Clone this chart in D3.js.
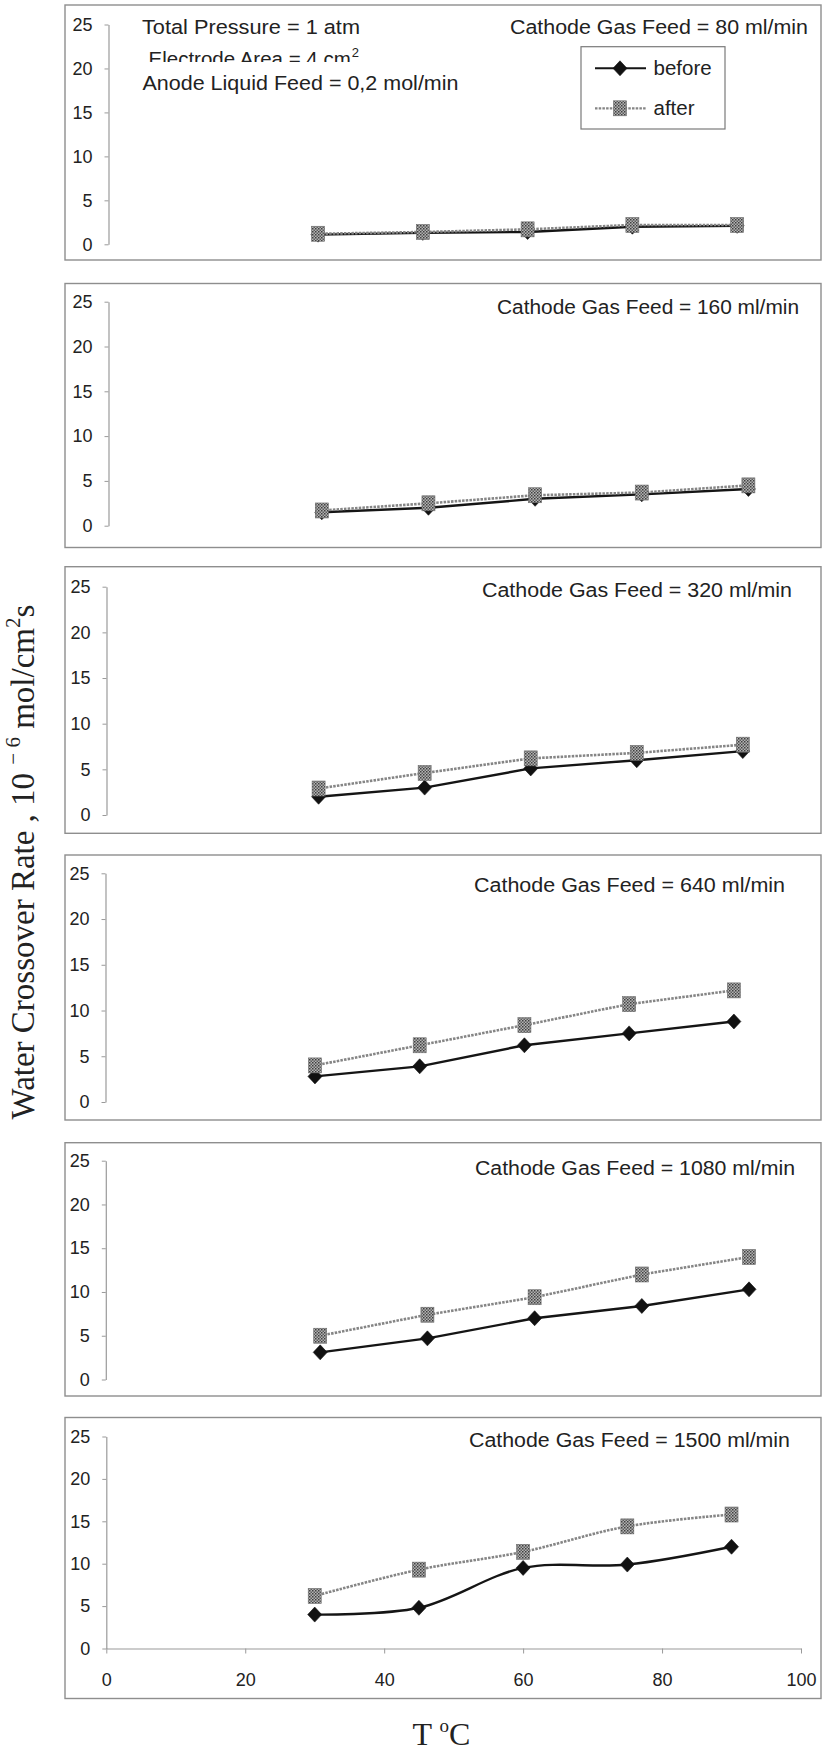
<!DOCTYPE html>
<html>
<head>
<meta charset="utf-8">
<script src="https://cdn.jsdelivr.net/npm/d3@7"></script>
<style>
  body { margin: 0; background: #fff; }
  svg { display: block; }
</style>
</head>
<body>
<svg id="chart" width="823" height="1751"></svg>
<script>
// Water crossover rate (10^-6 mol/cm2 s) vs. cell temperature, before and after,
// one panel per cathode gas feed rate.
const temperatures = [30, 45, 60, 75, 90];
const cathodeFeeds = [80, 160, 320, 640, 1080, 1500];

const before80   = [1.1, 1.3, 1.4, 2.0, 2.1];
const after80    = [1.2, 1.4, 1.7, 2.2, 2.2];
const before160  = [1.5, 2.0, 3.0, 3.5, 4.1];
const after160   = [1.7, 2.5, 3.4, 3.7, 4.5];
const before320  = [2.0, 3.0, 5.1, 6.0, 7.0];
const after320   = [2.9, 4.6, 6.2, 6.8, 7.7];
const before640  = [2.8, 3.9, 6.2, 7.5, 8.8];
const after640   = [4.0, 6.2, 8.4, 10.7, 12.2];
const before1080 = [3.1, 4.7, 7.0, 8.4, 10.3];
const after1080  = [5.0, 7.4, 9.4, 12.0, 14.0];
const before1500 = [4.0, 4.8, 9.5, 9.9, 12.0];
const after1500  = [6.2, 9.3, 11.4, 14.4, 15.8];

const beforeSeries = [before80, before160, before320, before640, before1080, before1500];
const afterSeries  = [after80, after160, after320, after640, after1080, after1500];

const yTicks = [0, 5, 10, 15, 20, 25];
const xTicks = [0, 20, 40, 60, 80, 100];
const seriesNames = ["before", "after"];

// Panel frames and plot areas (pixels)
const panelBoxes = [
  { top: 5,      bottom: 260,    yTop: 24.5,   yZero: 244.3,  xZero: 108.5, xFull: 807,   titleEnd: 808, titleW: 298, titleY: 34 },
  { top: 283.5,  bottom: 547.5,  yTop: 301.7,  yZero: 525.7,  xZero: 108.5, xFull: 819.5, titleEnd: 799, titleW: 302, titleY: 314 },
  { top: 566.7,  bottom: 833.3,  yTop: 586.7,  yZero: 815,    xZero: 106.5, xFull: 813.5, titleEnd: 792, titleW: 310, titleY: 596.5 },
  { top: 855,    bottom: 1120,   yTop: 873.3,  yZero: 1102,   xZero: 105.5, xFull: 803.7, titleEnd: 785, titleW: 311, titleY: 891.5 },
  { top: 1142.7, bottom: 1396,   yTop: 1160.7, yZero: 1379.5, xZero: 105.8, xFull: 820.5, titleEnd: 795, titleW: 320, titleY: 1174.5 },
  { top: 1417.5, bottom: 1698.5, yTop: 1436.5, yZero: 1648.5, xZero: 106.3, xFull: 801,   titleEnd: 790, titleW: 321, titleY: 1446.5 }
];
const frameLeft = 65, frameRight = 821;
const SANS = "'Liberation Sans', Arial, sans-serif";
const SERIF = "'Liberation Serif', 'Times New Roman', serif";

const svg = d3.select("#chart");
svg.append("rect").attr("width", 823).attr("height", 1751).attr("fill", "#fff");

// checkered fill for the "after" markers
const defs = svg.append("defs");
const pat = defs.append("pattern").attr("id", "checker")
  .attr("patternUnits", "userSpaceOnUse").attr("width", 3).attr("height", 3);
pat.append("rect").attr("width", 3).attr("height", 3).attr("fill", "#b3b3b3");
pat.append("rect").attr("width", 1.5).attr("height", 1.5).attr("fill", "#3f3f3f");
pat.append("rect").attr("x", 1.5).attr("y", 1.5).attr("width", 1.5).attr("height", 1.5).attr("fill", "#5c5c5c");
defs.append("clipPath").attr("id", "areaClip")
  .append("rect").attr("x", 0).attr("y", 0).attr("width", 823).attr("height", 62);

const diamond = (g, cx, cy) => g.append("path")
  .attr("d", `M${cx},${cy - 7.5}L${cx + 7},${cy}L${cx},${cy + 7.5}L${cx - 7},${cy}Z`)
  .attr("fill", "#111").attr("stroke", "#111").attr("stroke-width", 0.6);
const square = (g, cx, cy) => g.append("rect")
  .attr("x", cx - 6.5).attr("y", cy - 7.5).attr("width", 13).attr("height", 15)
  .attr("fill", "url(#checker)").attr("stroke", "#6a6a6a").attr("stroke-width", 0.6);

const beforeStyle = { stroke: "#151515", width: 2.4, dash: null };
const afterStyle  = { stroke: "#858585", width: 2.6, dash: "2.5,1.2" };

cathodeFeeds.forEach((feed, i) => {
  const box = panelBoxes[i];
  const g = svg.append("g");

  g.append("rect")
    .attr("x", frameLeft).attr("y", box.top)
    .attr("width", frameRight - frameLeft).attr("height", box.bottom - box.top)
    .attr("fill", "#fff").attr("stroke", "#8e8e8e").attr("stroke-width", 1.4);

  const x = d3.scaleLinear().domain([0, 100]).range([box.xZero, box.xFull]);
  const y = d3.scaleLinear().domain([0, 25]).range([box.yZero, box.yTop]);

  const yAxis = g.append("g")
    .attr("transform", `translate(${box.xZero},0)`)
    .call(d3.axisLeft(y).tickValues(yTicks).tickSize(4).tickSizeOuter(0).tickPadding(12));
  yAxis.select(".domain").attr("stroke", "#9a9a9a").attr("stroke-width", 1.2);
  yAxis.selectAll(".tick line").attr("stroke", "#9a9a9a");
  yAxis.selectAll(".tick text").attr("fill", "#222").style("font", `18px ${SANS}`);

  if (i === cathodeFeeds.length - 1) {
    const xAxis = g.append("g")
      .attr("transform", `translate(0,${box.yZero})`)
      .call(d3.axisBottom(x).tickValues(xTicks).tickSize(5).tickSizeOuter(0).tickPadding(20));
    xAxis.select(".domain").attr("stroke", "#9a9a9a").attr("stroke-width", 1.2);
    xAxis.selectAll(".tick line").attr("stroke", "#9a9a9a");
    xAxis.selectAll(".tick text").attr("fill", "#222").style("font", `18px ${SANS}`);
  }

  g.append("text")
    .attr("x", box.titleEnd - box.titleW).attr("y", box.titleY)
    .attr("textLength", box.titleW).attr("lengthAdjust", "spacingAndGlyphs")
    .attr("fill", "#222").style("font", `20px ${SANS}`)
    .text(`Cathode Gas Feed = ${feed} ml/min`);

  const curve = i === cathodeFeeds.length - 1 ? d3.curveCatmullRom.alpha(0.5) : d3.curveLinear;
  const line = d3.line().x(d => x(d[0])).y(d => y(d[1])).curve(curve);
  const beforePts = temperatures.map((t, k) => [t, beforeSeries[i][k]]);
  const afterPts = temperatures.map((t, k) => [t, afterSeries[i][k]]);

  [[beforePts, beforeStyle], [afterPts, afterStyle]].forEach(([pts, st]) => {
    g.append("path").attr("d", line(pts))
      .attr("fill", "none").attr("stroke", st.stroke).attr("stroke-width", st.width)
      .attr("stroke-dasharray", st.dash).attr("stroke-linejoin", "round");
  });
  beforePts.forEach(p => diamond(g, x(p[0]), y(p[1])));
  afterPts.forEach(p => square(g, x(p[0]), y(p[1])));
});

// operating conditions in the first panel
const cond = svg.append("g").attr("fill", "#222").style("font", `20.5px ${SANS}`);
cond.append("text").attr("x", 142).attr("y", 34)
  .attr("textLength", 218).attr("lengthAdjust", "spacingAndGlyphs")
  .text("Total Pressure = 1 atm");
const area = cond.append("text").attr("x", 148.5).attr("y", 66).attr("clip-path", "url(#areaClip)")
  .text("Electrode Area = 4 cm");
const areaEnd = 148.5 + area.node().getComputedTextLength();
cond.append("text").attr("x", areaEnd + 1).attr("y", 57).style("font-size", "13px").text("2");
cond.append("text").attr("x", 142.5).attr("y", 90)
  .attr("textLength", 316).attr("lengthAdjust", "spacingAndGlyphs")
  .text("Anode Liquid Feed = 0,2 mol/min");

// legend
const leg = svg.append("g");
leg.append("rect").attr("x", 581).attr("y", 46.7).attr("width", 144).attr("height", 82.3)
  .attr("fill", "#fff").attr("stroke", "#7a7a7a").attr("stroke-width", 1.2);
seriesNames.forEach((name, k) => {
  const cy = k === 0 ? 68.3 : 108.3;
  const st = k === 0 ? beforeStyle : afterStyle;
  leg.append("line").attr("x1", 595).attr("x2", 646).attr("y1", cy).attr("y2", cy)
    .attr("stroke", st.stroke).attr("stroke-width", k === 0 ? 2 : 2.2).attr("stroke-dasharray", st.dash);
  if (k === 0) diamond(leg, 620, cy); else square(leg, 620, cy);
  leg.append("text").attr("x", 653.5).attr("y", cy).attr("dy", "0.35em")
    .attr("fill", "#222").style("font", `20.5px ${SANS}`).text(name);
});

// axis titles
const yTitle = svg.append("text")
  .attr("transform", "translate(34,862) rotate(-90)")
  .attr("text-anchor", "middle").attr("fill", "#222")
  .style("font", `33px ${SERIF}`);
yTitle.append("tspan").text("Water Crossover Rate , 10 ");
yTitle.append("tspan").attr("dy", -14).style("font-size", "21px").text("− 6");
yTitle.append("tspan").attr("dy", 14).text(" mol/cm");
yTitle.append("tspan").attr("dy", -14).style("font-size", "21px").text("2");
yTitle.append("tspan").attr("dy", 14).text("s");

const xTitle = svg.append("text")
  .attr("x", 441.5).attr("y", 1745).attr("text-anchor", "middle")
  .attr("fill", "#222").style("font", `32px ${SERIF}`);
xTitle.append("tspan").text("T ");
xTitle.append("tspan").attr("dy", -13).style("font-size", "19px").text("o");
xTitle.append("tspan").attr("dy", 13).text("C");
</script>
</body>
</html>
